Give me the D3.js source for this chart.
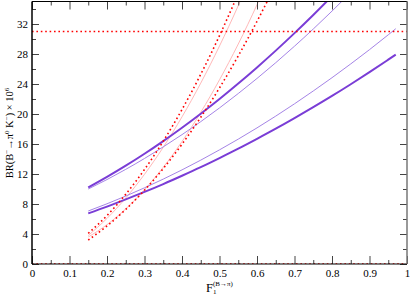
<!DOCTYPE html>
<html>
<head>
<meta charset="utf-8">
<script src="https://cdn.jsdelivr.net/npm/d3@7"></script>
<style>
  body { margin: 0; background: #fff; }
  svg { display: block; }
</style>
</head>
<body>
<div id="chart"></div>
<script>
// F1 grid points and branching ratios (x 10^6)
const fShort = [0.15, 0.2, 0.25, 0.3, 0.35, 0.4, 0.45, 0.5, 0.55, 0.6, 0.65];
const fMid   = [0.15, 0.2, 0.25, 0.3, 0.35, 0.4, 0.45, 0.5, 0.55, 0.6, 0.65, 0.7, 0.75, 0.8, 0.85];
const fLong  = [0.15, 0.2, 0.25, 0.3, 0.35, 0.4, 0.45, 0.5, 0.55, 0.6, 0.65, 0.7, 0.75, 0.8, 0.85, 0.9, 0.95, 0.97];

const thickUpper = [10.2, 11.61, 13.11, 14.70, 16.39, 18.17, 20.04, 22.00, 24.06, 26.21, 28.45, 30.78, 33.20, 35.72, 38.3];
const thinUpper  = [10.0, 11.26, 12.62, 14.07, 15.62, 17.25, 18.98, 20.81, 22.73, 24.74, 26.84, 29.04, 31.33, 33.72, 36.20];
const thinLower  = [7.07, 8.03, 9.06, 10.16, 11.32, 12.55, 13.85, 15.22, 16.65, 18.15, 19.72, 21.36, 23.07, 24.84, 26.68, 28.58, 30.56, 31.37];
const thickLower = [6.75, 7.65, 8.61, 9.61, 10.66, 11.77, 12.92, 14.13, 15.38, 16.69, 18.04, 19.45, 20.91, 22.41, 23.97, 25.58, 27.24, 27.91];
const redUpper   = [4.09, 6.46, 9.30, 12.60, 16.37, 20.60, 25.29, 30.45, 36.06, 42.0, 48.4];
const redLower   = [3.2, 5.07, 7.28, 9.84, 12.73, 15.97, 19.56, 23.48, 27.75, 32.35, 37.3];
const pinkUpper  = [3.8, 6.08, 8.80, 11.96, 15.57, 19.62, 24.12, 29.07, 34.45, 40.28, 46.5];
const pinkLower  = [3.6, 5.25, 7.35, 9.90, 12.89, 16.33, 20.22, 24.56, 29.33, 34.57, 40.24];

const expLimit = 31;   // horizontal dotted line
const xTicks = [0, 0.1, 0.2, 0.3, 0.4, 0.5, 0.6, 0.7, 0.8, 0.9, 1];
const yTicks = [0, 4, 8, 12, 16, 20, 24, 28, 32];

const serif = '"Liberation Serif", "Times New Roman", "DejaVu Serif", serif';

const W = 411, H = 296;
const margin = { top: 1.5, right: 4, bottom: 32, left: 32 };
const width = W - margin.left - margin.right;
const height = H - margin.top - margin.bottom;

const svg = d3.select('#chart').append('svg')
    .attr('width', W)
    .attr('height', H);

const g = svg.append('g')
    .attr('transform', `translate(${margin.left},${margin.top})`);

const x = d3.scaleLinear().domain([0, 1]).range([0, width]);
const y = d3.scaleLinear().domain([0, 35]).range([height, 0]);

svg.append('defs').append('clipPath').attr('id', 'plot-clip')
    .append('rect').attr('width', width).attr('height', height);

const plot = g.append('g').attr('clip-path', 'url(#plot-clip)');

const line = d3.line()
    .x(d => x(d[0]))
    .y(d => y(d[1]))
    .curve(d3.curveMonotoneX);

const zip = (fs, vs) => fs.map((f, i) => [f, vs[i]]);

const series = [
    { f: fShort, v: pinkUpper,  color: '#ffb8b8', w: 1 },
    { f: fShort, v: pinkLower,  color: '#ffb8b8', w: 1 },
    { f: fMid,   v: thinUpper,  color: '#a584e6', w: 1 },
    { f: fLong,  v: thinLower,  color: '#a584e6', w: 1 },
    { f: fMid,   v: thickUpper, color: '#7a3dd6', w: 2 },
    { f: fLong,  v: thickLower, color: '#7a3dd6', w: 2 },
    { f: fShort, v: redUpper,   color: '#ff0000', w: 1.6, dash: '1.6,2.8' },
    { f: fShort, v: redLower,   color: '#ff0000', w: 1.6, dash: '1.6,2.8' }
];

series.forEach(s => {
    plot.append('path')
        .datum(zip(s.f, s.v))
        .attr('fill', 'none')
        .attr('stroke', s.color)
        .attr('stroke-width', s.w)
        .attr('stroke-dasharray', s.dash || null)
        .attr('d', line);
});

// horizontal dotted lines
[expLimit, 0].forEach(v => {
    plot.append('line')
        .attr('x1', 0).attr('x2', width)
        .attr('y1', y(v)).attr('y2', y(v))
        .attr('stroke', '#ff0000')
        .attr('stroke-width', 1.6)
        .attr('stroke-dasharray', '1.6,2.8');
});

// axes, ticks pointing inward
const minorX = d3.range(0.05, 1, 0.1);
const minorY = d3.range(2, 35, 4);

function styleAxis(sel) {
    sel.attr('font-family', serif).attr('font-size', 11);
    sel.selectAll('.tick line').attr('stroke', '#444');
    sel.selectAll('.tick text').attr('fill', '#000');
    sel.select('.domain').remove();
}

g.append('g').attr('transform', `translate(0,${height})`)
    .call(d3.axisBottom(x).tickValues(xTicks).tickSize(-8).tickPadding(5).tickFormat(d => d === 0 || d === 1 ? d : d3.format('.1f')(d)))
    .call(styleAxis);
g.append('g').attr('transform', `translate(0,${height})`)
    .call(d3.axisBottom(x).tickValues(minorX).tickSize(-4).tickFormat(''))
    .call(styleAxis);
g.append('g')
    .call(d3.axisTop(x).tickValues(xTicks).tickSize(-8).tickFormat(''))
    .call(styleAxis);
g.append('g')
    .call(d3.axisTop(x).tickValues(minorX).tickSize(-4).tickFormat(''))
    .call(styleAxis);
g.append('g')
    .call(d3.axisLeft(y).tickValues(yTicks).tickSize(-7).tickPadding(4))
    .call(styleAxis);
g.append('g')
    .call(d3.axisLeft(y).tickValues(minorY).tickSize(-4).tickFormat(''))
    .call(styleAxis);
g.append('g').attr('transform', `translate(${width},0)`)
    .call(d3.axisRight(y).tickValues(yTicks).tickSize(-7).tickFormat(''))
    .call(styleAxis);
g.append('g').attr('transform', `translate(${width},0)`)
    .call(d3.axisRight(y).tickValues(minorY).tickSize(-4).tickFormat(''))
    .call(styleAxis);

// frame
g.append('line').attr('x1', 0).attr('x2', width).attr('y1', 0).attr('y2', 0).attr('stroke', '#000').attr('stroke-width', 1.2);
g.append('line').attr('x1', 0).attr('x2', width).attr('y1', height).attr('y2', height).attr('stroke', '#000').attr('stroke-width', 1.2);
g.append('line').attr('x1', 0).attr('x2', 0).attr('y1', 0).attr('y2', height).attr('stroke', '#000').attr('stroke-width', 1.5);
g.append('line').attr('x1', width).attr('x2', width).attr('y1', 0).attr('y2', height).attr('stroke', '#777').attr('stroke-width', 1.5);

// y title
const yt = svg.append('text')
    .attr('transform', 'translate(12.5,133) rotate(-90)')
    .attr('text-anchor', 'middle')
    .attr('font-family', serif)
    .attr('font-size', 10.5)
    .attr('fill', '#000');
yt.append('tspan').text('BR(B');
yt.append('tspan').attr('dy', -4).attr('font-size', 7).text('−');
yt.append('tspan').attr('dy', 4).text('→π');
yt.append('tspan').attr('dy', -4).attr('font-size', 7).text('0');
yt.append('tspan').attr('dy', 4).text(' K');
yt.append('tspan').attr('dy', -4).attr('font-size', 7).text('−');
yt.append('tspan').attr('dy', 4).text(') × 10');
yt.append('tspan').attr('dy', -4).attr('font-size', 7).text('6');

// x title
const xt = svg.append('text')
    .attr('x', 206).attr('y', 291.5)
    .attr('font-family', serif)
    .attr('font-size', 12.5)
    .attr('fill', '#000');
xt.append('tspan').text('F');
xt.append('tspan').attr('dy', 2).attr('font-size', 7).text('1');
xt.append('tspan').attr('dx', -3.5).attr('dy', -8).attr('font-size', 7).text('(B→π)');
</script>
</body>
</html>
